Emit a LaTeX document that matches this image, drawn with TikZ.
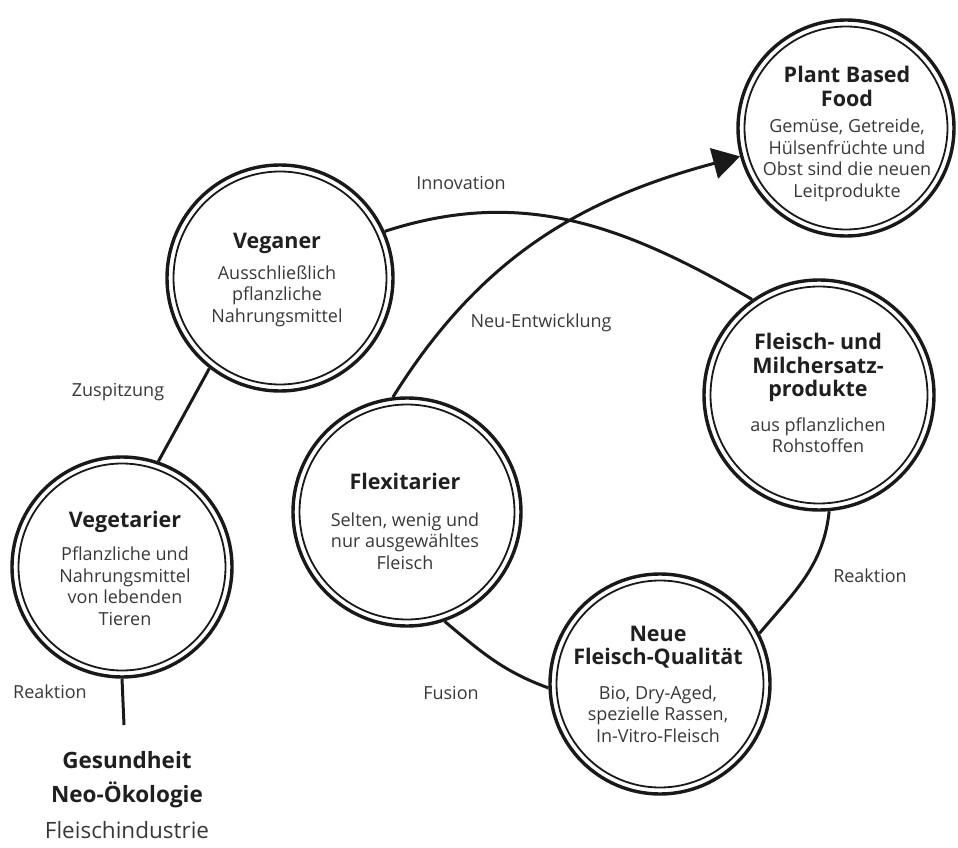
\documentclass[tikz,border=0pt]{standalone}
\usepackage{fontspec}
\setmainfont{Open Sans}
\usetikzlibrary{arrows.meta}
\begin{document}
\begin{tikzpicture}[x=1pt,y=1pt,
 ring/.style={circle, draw=black!90, line width=3.4pt, inner sep=0pt, minimum size=#1},
 inring/.style={draw=black!90, line width=1.8pt},
 ttl/.style={font=\bfseries\fontsize{21.5}{23.5}\selectfont, text=black!88, align=center, inner sep=0pt},
 dsc/.style={font=\fontsize{18}{21.5}\selectfont, text=black!78, align=center, inner sep=0pt},
 lbl/.style={font=\fontsize{18}{21}\selectfont, text=black!78, inner sep=0pt},
 btm/.style={font=\bfseries\fontsize{22.5}{26}\selectfont, text=black!88, inner sep=0pt},
 btmr/.style={font=\fontsize{22.5}{26}\selectfont, text=black!78, inner sep=0pt},
 conn/.style={line width=3pt, draw=black!90},
]
\useasboundingbox (0,0) rectangle (958,847);
% circles
\node[ring=216pt] (plant) at (846,719) {};
\node[ring=226pt] (vegan) at (280,569) {};
\node[ring=220pt] (vegetar) at (122,280) {};
\node[ring=228pt] (flex) at (407,335) {};
\node[ring=220pt] (neue) at (660,163) {};
\node[ring=230pt] (fleisch) at (819,452) {};
\draw[inring] (plant.center) circle[radius=101.5];
\draw[inring] (vegan.center) circle[radius=106.5];
\draw[inring] (vegetar.center) circle[radius=103.5];
\draw[inring] (flex.center) circle[radius=107.5];
\draw[inring] (neue.center) circle[radius=103.5];
\draw[inring] (fleisch.center) circle[radius=108.5];
% texts
\node[ttl] (plant-t) at (847,760.5) {Plant Based\\Food};
\node[dsc] (plant-d) at (847,686.5) {Gemüse, Getreide,\\Hülsenfrüchte und\\Obst sind die neuen\\Leitprodukte};
\node[ttl] (vegan-t) at (277,604) {Veganer};
\node[dsc] (vegan-d) at (277,551) {Ausschließlich\\pflanzliche\\Nahrungsmittel};
\node[ttl] (vegetar-t) at (125,325) {Vegetarier};
\node[dsc] (vegetar-d) at (125,261) {Pflanzliche und\\Nahrungsmittel\\von lebenden\\Tieren};
\node[ttl] (flex-t) at (405,366) {Flexitarier};
\node[dsc] (flex-d) at (405,306) {Selten, wenig und\\nur ausgewähltes\\Fleisch};
\node[ttl] (neue-t) at (658,200) {Neue\\Fleisch-Qualität};
\node[dsc] (neue-d) at (658,133) {Bio, Dry-Aged,\\spezielle Rassen,\\In-Vitro-Fleisch};
\node[ttl] (fleisch-t) at (818,479.5) {Fleisch- und\\Milchersatz-\\produkte};
\node[dsc] (fleisch-d) at (818,412) {aus pflanzlichen\\Rohstoffen};
% labels
\node[lbl] (l-innov) at (461,664) {Innovation};
\node[lbl] (l-neu) at (541,524) {Neu-Entwicklung};
\node[lbl] (l-zusp) at (118,455) {Zuspitzung};
\node[lbl] (l-reak1) at (50,155) {Reaktion};
\node[lbl] (l-fus) at (451,154) {Fusion};
\node[lbl] (l-reak2) at (870,271) {Reaktion};
\node[btm] (b1) at (127,87) {Gesundheit};
\node[btm] (b2) at (127,52) {Neo-Ökologie};
\node[btmr] (b3) at (127,17) {Fleischindustrie};
\coordinate (g) at (124,122);
% connectors
\draw[conn] (vegan.24) to[out=18,in=150] (fleisch.125);
\draw[conn] (vegetar.71) -- (vegan.232);
\draw[conn] (vegetar.south) -- (g);
\draw[conn,-{Triangle[length=27pt,width=31pt]}] (flex.97) to[out=58,in=195] (plant.195);
\draw[conn] (flex.289) to[out=-40,in=160] (neue.182);
\draw[conn] (fleisch.275) to[out=-96,in=50] (neue.27);
\end{tikzpicture}
\end{document}
